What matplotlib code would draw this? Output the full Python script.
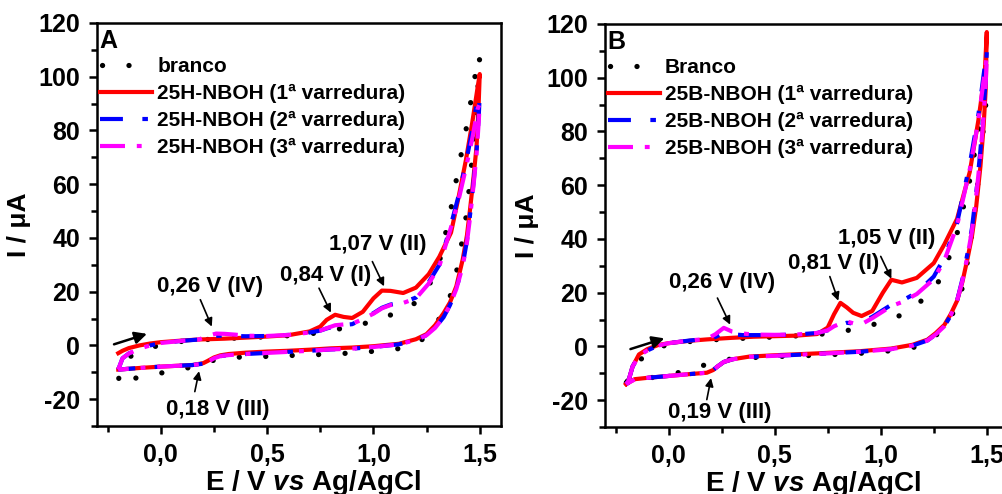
import numpy as np
import matplotlib
matplotlib.use("Agg")
import matplotlib.pyplot as plt
from matplotlib.ticker import MultipleLocator

plt.rcParams["font.family"] = ["Liberation Sans", "DejaVu Sans"]
plt.rcParams["font.weight"] = "bold"
plt.rcParams["axes.labelweight"] = "bold"
plt.rcParams["axes.unicode_minus"] = False
plt.rcParams["mathtext.fontset"] = "custom"
plt.rcParams["mathtext.rm"] = "Liberation Sans:bold"
plt.rcParams["mathtext.it"] = "Liberation Sans:italic:bold"
plt.rcParams["lines.scale_dashes"] = False

# ---- panel A: 25H-NBOH ----
E_fwd_A = [-0.20, -0.18, -0.15, -0.10, -0.05, 0.00, 0.10, 0.18, 0.22, 0.26, 0.30, 0.35,
           0.40, 0.50, 0.60, 0.70, 0.75, 0.78, 0.82, 0.86, 0.90, 0.95, 1.00, 1.04, 1.08,
           1.14, 1.20, 1.26, 1.31, 1.365, 1.40, 1.435, 1.465, 1.49, 1.50]
E_rev_A = [1.50, 1.495, 1.485, 1.47, 1.455, 1.44, 1.42, 1.39, 1.36, 1.33, 1.29, 1.25, 1.20,
           1.12, 1.00, 0.90, 0.80, 0.70, 0.60, 0.50, 0.40, 0.32, 0.28, 0.25, 0.22, 0.20,
           0.15, 0.10, 0.00, -0.10, -0.20]

branco_fwd_A = [-13.0, -7.0, -4.3, -2.8, -1.0, 0.3, 1.5, 2.0, 2.2, 2.4, 2.6, 2.7,
                2.9, 3.2, 3.6, 4.3, 4.8, 5.3, 5.9, 6.4, 7.0, 8.0, 9.0, 10.2, 11.3,
                13.0, 16.0, 22.0, 31.0, 51.0, 66.0, 80.0, 94.0, 106.0, 108.0]
branco_rev_A = [108.0, 100.0, 88.0, 74.0, 62.0, 50.0, 40.0, 27.0, 18.0, 12.5, 7.5, 3.5, 0.4,
                -1.2, -2.2, -2.8, -3.3, -3.5, -3.8, -4.1, -4.3, -4.5, -5.0, -5.5, -6.3, -7.0,
                -8.0, -8.8, -10.3, -11.9, -13.4]
scan1_fwd_A = [-2.9, -2.0, -1.0, 0.0, 0.7, 1.2, 1.8, 2.2, 2.3, 2.4, 2.5, 2.7,
               2.9, 3.3, 3.8, 5.2, 7.0, 9.5, 11.4, 10.6, 10.2, 12.5, 17.5, 20.4, 20.3,
               19.5, 21.5, 26.5, 33.0, 42.0, 55.0, 69.0, 83.0, 96.0, 101.0]
scan1_rev_A = [101.0, 90.0, 74.0, 62.0, 51.0, 41.0, 32.0, 22.0, 16.0, 12.0, 7.5, 4.2, 2.3,
               0.6, -0.3, -0.8, -1.1, -1.6, -2.0, -2.3, -2.7, -3.2, -3.7, -4.5, -5.8, -6.6,
               -7.3, -7.5, -7.9, -8.4, -9.0]
scan2_fwd_A = [-9.0, -4.8, -3.0, -1.2, 0.0, 0.9, 1.7, 2.2, 3.0, 3.6, 3.6, 3.5,
               3.4, 3.5, 3.9, 4.8, 5.5, 6.3, 7.2, 7.6, 7.9, 9.8, 12.0, 14.0, 15.2,
               16.0, 17.8, 23.5, 30.0, 45.0, 55.5, 68.0, 80.0, 92.0, 93.0]
scan2_rev_A = [93.0, 85.0, 72.0, 60.0, 49.0, 39.0, 30.0, 21.0, 15.0, 10.5, 6.5, 3.8, 2.0,
               0.4, -0.6, -1.2, -1.5, -2.0, -2.4, -2.8, -3.2, -3.6, -4.0, -4.8, -6.2, -6.8,
               -7.3, -7.5, -7.9, -8.4, -9.0]
scan3_fwd_A = [-9.0, -4.8, -3.0, -1.2, 0.0, 0.9, 1.7, 2.2, 3.5, 4.4, 4.3, 4.0,
               3.6, 3.5, 3.9, 4.8, 5.5, 6.4, 7.5, 7.8, 8.0, 9.8, 11.8, 13.8, 15.0,
               15.8, 17.5, 23.0, 29.5, 44.0, 54.0, 66.0, 77.0, 88.0, 90.0]
scan3_rev_A = [90.0, 83.0, 71.0, 59.0, 48.0, 38.5, 29.5, 21.0, 15.0, 10.5, 6.5, 3.8, 2.0,
               0.4, -0.6, -1.2, -1.5, -2.0, -2.4, -2.8, -3.2, -3.6, -4.0, -4.8, -6.2, -6.8,
               -7.3, -7.5, -7.9, -8.4, -9.0]

# ---- panel B: 25B-NBOH ----
E_fwd_B = [-0.20, -0.19, -0.17, -0.14, -0.10, -0.05, 0.00, 0.10, 0.18, 0.22, 0.26, 0.30,
           0.35, 0.40, 0.50, 0.60, 0.70, 0.75, 0.78, 0.81, 0.84, 0.87, 0.91, 0.96, 1.01,
           1.05, 1.10, 1.17, 1.25, 1.30, 1.36, 1.42, 1.46, 1.49, 1.50]
E_rev_B = [1.50, 1.495, 1.485, 1.47, 1.45, 1.43, 1.41, 1.385, 1.36, 1.33, 1.30, 1.26, 1.22,
           1.15, 1.05, 0.90, 0.70, 0.50, 0.38, 0.30, 0.26, 0.23, 0.21, 0.18, 0.10, 0.00,
           -0.10, -0.16, -0.20]

branco_fwd_B = [-13.5, -12.5, -9.0, -5.5, -2.5, -0.5, 0.8, 1.8, 2.3, 2.5, 2.7, 2.9,
                3.0, 3.2, 3.5, 3.9, 4.4, 4.8, 5.1, 5.5, 5.9, 6.3, 6.9, 8.0, 9.3,
                10.2, 11.8, 15.5, 21.0, 28.0, 42.0, 62.0, 80.0, 92.0, 95.0]
branco_rev_B = [95.0, 90.0, 82.0, 70.0, 55.0, 42.0, 32.0, 22.0, 15.0, 11.0, 8.0, 4.0, 1.5,
                -0.5, -1.6, -2.6, -3.3, -3.8, -4.2, -4.6, -5.2, -5.6, -6.0, -6.7, -8.5, -10.8,
                -11.8, -12.5, -13.5]
scan1_fwd_B = [-14.0, -13.0, -7.5, -3.0, -1.0, 0.5, 1.2, 2.1, 2.6, 2.8, 3.0, 3.2,
               3.4, 3.6, 3.8, 4.0, 4.6, 7.0, 12.0, 16.2, 14.5, 12.5, 11.3, 13.2, 20.0,
               24.8, 23.8, 25.5, 31.0, 38.0, 47.5, 65.0, 84.0, 101.0, 117.0]
scan1_rev_B = [117.0, 96.0, 82.0, 67.0, 52.0, 41.0, 33.0, 24.0, 17.0, 12.0, 8.0, 5.0, 2.5,
               0.6, -0.8, -1.8, -2.6, -3.3, -3.8, -4.8, -5.8, -7.5, -8.8, -9.8, -10.3, -11.0,
               -11.7, -12.2, -14.0]
scan2_fwd_B = [-14.0, -13.0, -7.5, -3.5, -1.5, 0.3, 1.2, 2.2, 2.8, 3.5, 5.0, 4.5,
               4.2, 4.2, 4.2, 4.4, 5.0, 6.0, 7.2, 8.0, 8.8, 8.5, 9.0, 11.0, 13.5,
               15.5, 17.0, 20.0, 26.0, 33.0, 46.0, 68.0, 86.0, 104.0, 110.0]
scan2_rev_B = [110.0, 100.0, 88.0, 73.0, 57.0, 44.0, 35.0, 25.0, 17.0, 11.5, 7.5, 4.5, 2.2,
               0.3, -1.0, -2.0, -2.8, -3.5, -3.9, -4.8, -5.8, -7.5, -8.8, -9.8, -10.3, -11.0,
               -11.7, -12.3, -14.0]
scan3_fwd_B = [-14.0, -13.0, -7.5, -3.5, -1.5, 0.3, 1.2, 2.2, 2.8, 4.5, 6.9, 5.5,
               4.8, 4.4, 4.3, 4.4, 5.0, 6.0, 7.5, 8.5, 9.3, 8.6, 8.3, 10.5, 13.0,
               15.0, 16.5, 19.5, 25.0, 32.0, 45.0, 66.0, 84.0, 102.0, 108.0]
scan3_rev_B = [108.0, 98.0, 86.0, 71.0, 56.0, 43.0, 34.0, 24.5, 17.0, 11.5, 7.5, 4.5, 2.2,
               0.3, -1.0, -2.0, -2.8, -3.5, -3.9, -4.8, -5.8, -7.5, -8.8, -9.8, -10.3, -11.0,
               -11.7, -12.3, -14.0]

labels_A = ["branco", "25H-NBOH (1ª varredura)", "25H-NBOH (2ª varredura)",
            "25H-NBOH (3ª varredura)"]
labels_B = ["Branco", "25B-NBOH (1ª varredura)", "25B-NBOH (2ª varredura)",
            "25B-NBOH (3ª varredura)"]
x_ticks = [0.0, 0.5, 1.0, 1.5]
x_ticklabels = ["0,0", "0,5", "1,0", "1,5"]
y_ticks = [-20, 0, 20, 40, 60, 80, 100, 120]

# peak labels: text, text pos, arrow tail, arrow head (data coords)
peaks_A = [
    ("0,26 V (IV)", (0.23, 22.0), (0.186, 17.0), (0.24, 7.0)),
    ("0,84 V (I)", (0.775, 26.2), (0.744, 21.3), (0.80, 12.2)),
    ("1,07 V (II)", (1.02, 37.4), (0.995, 31.2), (1.05, 22.0)),
    ("0,18 V (III)", (0.27, -24.0), (0.16, -17.2), (0.18, -9.6)),
]
peaks_B = [
    ("0,26 V (IV)", (0.25, 23.6), (0.23, 18.0), (0.29, 8.1)),
    ("0,81 V (I)", (0.78, 31.0), (0.76, 26.0), (0.80, 17.0)),
    ("1,05 V (II)", (1.03, 40.3), (1.00, 33.5), (1.05, 25.2)),
    ("0,19 V (III)", (0.24, -24.7), (0.18, -19.8), (0.20, -11.8)),
]

styles = [
    dict(color="black", lw=3.8, linestyle=(17.6, (0.05, 19.0)), dash_capstyle="round"),
    dict(color="#FF0000", lw=3.0, linestyle="-"),
    dict(color="#0000FF", lw=3.0, linestyle=(0, (16.5, 14.0, 4.0, 14.0))),
    dict(color="#FF00FF", lw=3.0, linestyle=(0, (18.0, 8.5, 3.5, 8.5))),
]

fig = plt.figure(figsize=(10.02, 4.94), dpi=100)
axA = fig.add_axes([97 / 1002, 1 - 426 / 494, 404 / 1002, 403 / 494])
axB = fig.add_axes([605 / 1002, 1 - 427 / 494, 403 / 1002, 403 / 494])


def draw_panel(ax, letter, E_fwd, E_rev, series, labels, peaks, scan_arrow, xlab_x):
    for (fwd, rev), lab, st in zip(series, labels, styles):
        ax.plot(np.concatenate([E_fwd, E_rev]), np.concatenate([fwd, rev]), label=lab, **st)

    ax.set_xlim(-0.3, 1.6)
    ax.set_ylim(-30, 120)
    ax.set_xticks(x_ticks)
    ax.set_xticklabels(x_ticklabels)
    ax.set_yticks(y_ticks)
    ax.xaxis.set_minor_locator(MultipleLocator(0.25))
    ax.yaxis.set_minor_locator(MultipleLocator(10))
    ax.tick_params(which="major", direction="out", length=6, width=1.8, labelsize=18, pad=6)
    ax.tick_params(which="minor", direction="out", length=4, width=1.8)
    for sp in ax.spines.values():
        sp.set_linewidth(1.8)

    ax.set_ylabel("I / μA", fontsize=19)
    ax.yaxis.set_label_coords(-0.163, 0.5)
    ax.set_xlabel(r"E / V $\it{vs}$ Ag/AgCl", fontsize=20)
    ax.xaxis.set_label_coords(xlab_x, -0.105)

    ax.text(0.007, 0.985, letter, transform=ax.transAxes, fontsize=18, va="top", ha="left")
    ax.legend(loc="upper left", bbox_to_anchor=(0.007, 0.915), frameon=False, fontsize=15,
              handlelength=2.5, handletextpad=0.25, labelspacing=0.38, borderpad=0,
              borderaxespad=0)

    for txt, tpos, tail, head in peaks:
        ax.text(tpos[0], tpos[1], txt, fontsize=16, ha="center", va="center")
        ax.annotate("", xy=head, xytext=tail,
                    arrowprops=dict(arrowstyle="-|>", color="black", lw=1.2,
                                    mutation_scale=12, shrinkA=0, shrinkB=0))
    ax.annotate("", xy=scan_arrow[1], xytext=scan_arrow[0],
                arrowprops=dict(arrowstyle="-|>", color="black", lw=1.8,
                                mutation_scale=18, shrinkA=0, shrinkB=0))


draw_panel(axA, "A", E_fwd_A, E_rev_A,
           [(branco_fwd_A, branco_rev_A), (scan1_fwd_A, scan1_rev_A),
            (scan2_fwd_A, scan2_rev_A), (scan3_fwd_A, scan3_rev_A)],
           labels_A, peaks_A, ((-0.22, 0.4), (-0.065, 4.3)), 0.535)
draw_panel(axB, "B", E_fwd_B, E_rev_B,
           [(branco_fwd_B, branco_rev_B), (scan1_fwd_B, scan1_rev_B),
            (scan2_fwd_B, scan2_rev_B), (scan3_fwd_B, scan3_rev_B)],
           labels_B, peaks_B, ((-0.18, -1.0), (-0.02, 3.0)), 0.517)

fig.savefig("out.png", dpi=100)
